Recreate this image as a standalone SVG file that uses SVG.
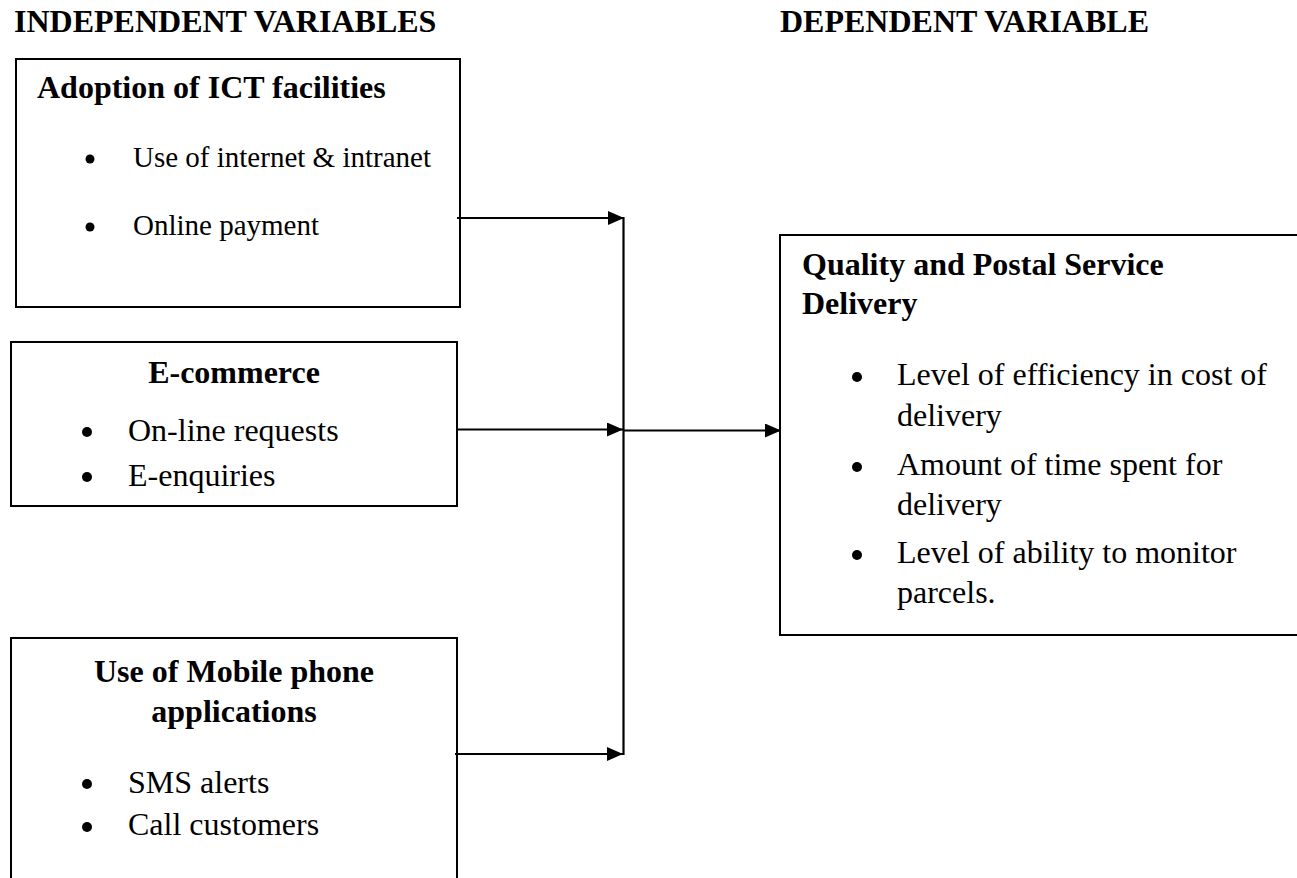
<svg xmlns="http://www.w3.org/2000/svg" width="1297" height="878" viewBox="0 0 1297 878">
<style>
.bg{fill:#fff}
.box{fill:none;stroke:#000;stroke-width:2}
.conn{fill:none;stroke:#000;stroke-width:2.2}
.h{font-family:"Liberation Serif","Times New Roman",serif;font-weight:bold;font-size:32px;fill:#000}
.t{font-family:"Liberation Serif","Times New Roman",serif;font-size:32px;fill:#000}
.ts{font-family:"Liberation Serif","Times New Roman",serif;font-size:29px;fill:#000}
.b{fill:#000}
</style>
<defs>
<marker id="ah" markerUnits="userSpaceOnUse" markerWidth="16" markerHeight="14" refX="16" refY="7" orient="auto">
<path d="M0,0 L16,7 L0,14 z" fill="#000"/>
</marker>
</defs>
<rect class="bg" x="0" y="0" width="1297" height="878"/>

<g id="titles">
<text class="h" x="14" y="32">INDEPENDENT VARIABLES</text>
<text class="h" x="780" y="32">DEPENDENT VARIABLE</text>
</g>

<g id="node-ict">
<rect class="box" x="16" y="59" width="444" height="248"/>
<text class="h" x="37" y="98">Adoption of ICT facilities</text>
<circle class="b" cx="90" cy="159" r="4.5"/>
<text class="ts" x="133" y="167">Use of internet &amp; intranet</text>
<circle class="b" cx="90" cy="227" r="4.5"/>
<text class="ts" x="133" y="235">Online payment</text>
</g>

<g id="node-ecommerce">
<rect class="box" x="11" y="342" width="446" height="164"/>
<text class="h" x="234" y="383" text-anchor="middle">E-commerce</text>
<circle class="b" cx="87" cy="432" r="5"/>
<text class="t" x="128" y="441">On-line requests</text>
<circle class="b" cx="87" cy="477" r="5"/>
<text class="t" x="128" y="486">E-enquiries</text>
</g>

<g id="node-mobile">
<rect class="box" x="11" y="638" width="446" height="260"/>
<text class="h" x="234" y="682" text-anchor="middle">Use of Mobile phone</text>
<text class="h" x="234" y="722" text-anchor="middle">applications</text>
<circle class="b" cx="87" cy="784" r="5"/>
<text class="t" x="128" y="793">SMS alerts</text>
<circle class="b" cx="87" cy="827" r="5"/>
<text class="t" x="128" y="835">Call customers</text>
</g>

<g id="node-quality">
<rect class="box" x="780" y="235" width="530" height="400"/>
<text class="h" x="802" y="275">Quality and Postal Service</text>
<text class="h" x="802" y="314">Delivery</text>
<circle class="b" cx="857" cy="377" r="5"/>
<text class="t" x="897" y="385">Level of efficiency in cost of</text>
<text class="t" x="897" y="426">delivery</text>
<circle class="b" cx="857" cy="467" r="5"/>
<text class="t" x="897" y="475">Amount of time spent for</text>
<text class="t" x="897" y="515">delivery</text>
<circle class="b" cx="857" cy="555" r="5"/>
<text class="t" x="897" y="563">Level of ability to monitor</text>
<text class="t" x="897" y="603">parcels.</text>
</g>

<g id="connectors">
<line class="conn" x1="457" y1="218" x2="624" y2="218" marker-end="url(#ah)"/>
<line class="conn" x1="458" y1="429.5" x2="623" y2="429.5" marker-end="url(#ah)"/>
<line class="conn" x1="455" y1="754" x2="623" y2="754" marker-end="url(#ah)"/>
<line class="conn" x1="623.5" y1="217" x2="623.5" y2="755"/>
<line class="conn" x1="624" y1="430.5" x2="781" y2="430.5" marker-end="url(#ah)"/>
</g>
</svg>
